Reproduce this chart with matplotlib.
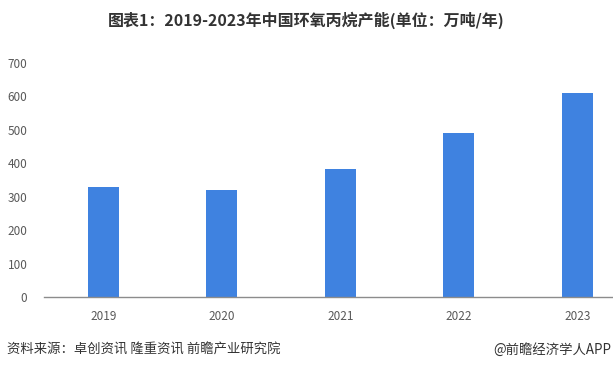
import numpy as np
import matplotlib.pyplot as plt

plt.rcParams['font.family'] = ['Noto Sans CJK SC', 'DejaVu Sans']

years = ['2019', '2020', '2021', '2022', '2023']
capacity = [330, 320, 383, 491, 611]  # 万吨/年
yticks = [0, 100, 200, 300, 400, 500, 600, 700]

fig = plt.figure(figsize=(6.13, 3.70), dpi=100)
ax = fig.add_axes([44 / 613, 73 / 370, (613 - 44) / 613, (297 - 63) / 370])

x = np.arange(len(years))
ax.bar(x, capacity, width=0.26, color='#3F82E0', zorder=2)

ax.set_xlim(-0.5, 4.3)
ax.set_ylim(0, 700)
ax.set_xticks(x)
ax.set_xticklabels(years)
ax.set_yticks(yticks)
ax.tick_params(axis='both', length=0, labelsize=8.5, labelcolor='#595959')
ax.tick_params(axis='x', pad=9)
ax.tick_params(axis='y', pad=12)
for s in ['top', 'right', 'left']:
    ax.spines[s].set_visible(False)
ax.spines['bottom'].set_color('#8C8C8C')
ax.spines['bottom'].set_linewidth(1.0)

fig.text(0.5, 1 - 20 / 370, '图表1：2019-2023年中国环氧丙烷产能(单位：万吨/年)',
         ha='center', va='center', fontsize=11.5, fontweight='bold', color='#333333')
fig.text(7 / 613, 1 - 350 / 370, '资料来源：卓创资讯 隆重资讯 前瞻产业研究院',
         ha='left', va='center', fontsize=9.6, color='#333333')
fig.text(611 / 613, 1 - 350 / 370, '@前瞻经济学人APP',
         ha='right', va='center', fontsize=9.6, color='#333333')

fig.savefig('out.png', dpi=100)
